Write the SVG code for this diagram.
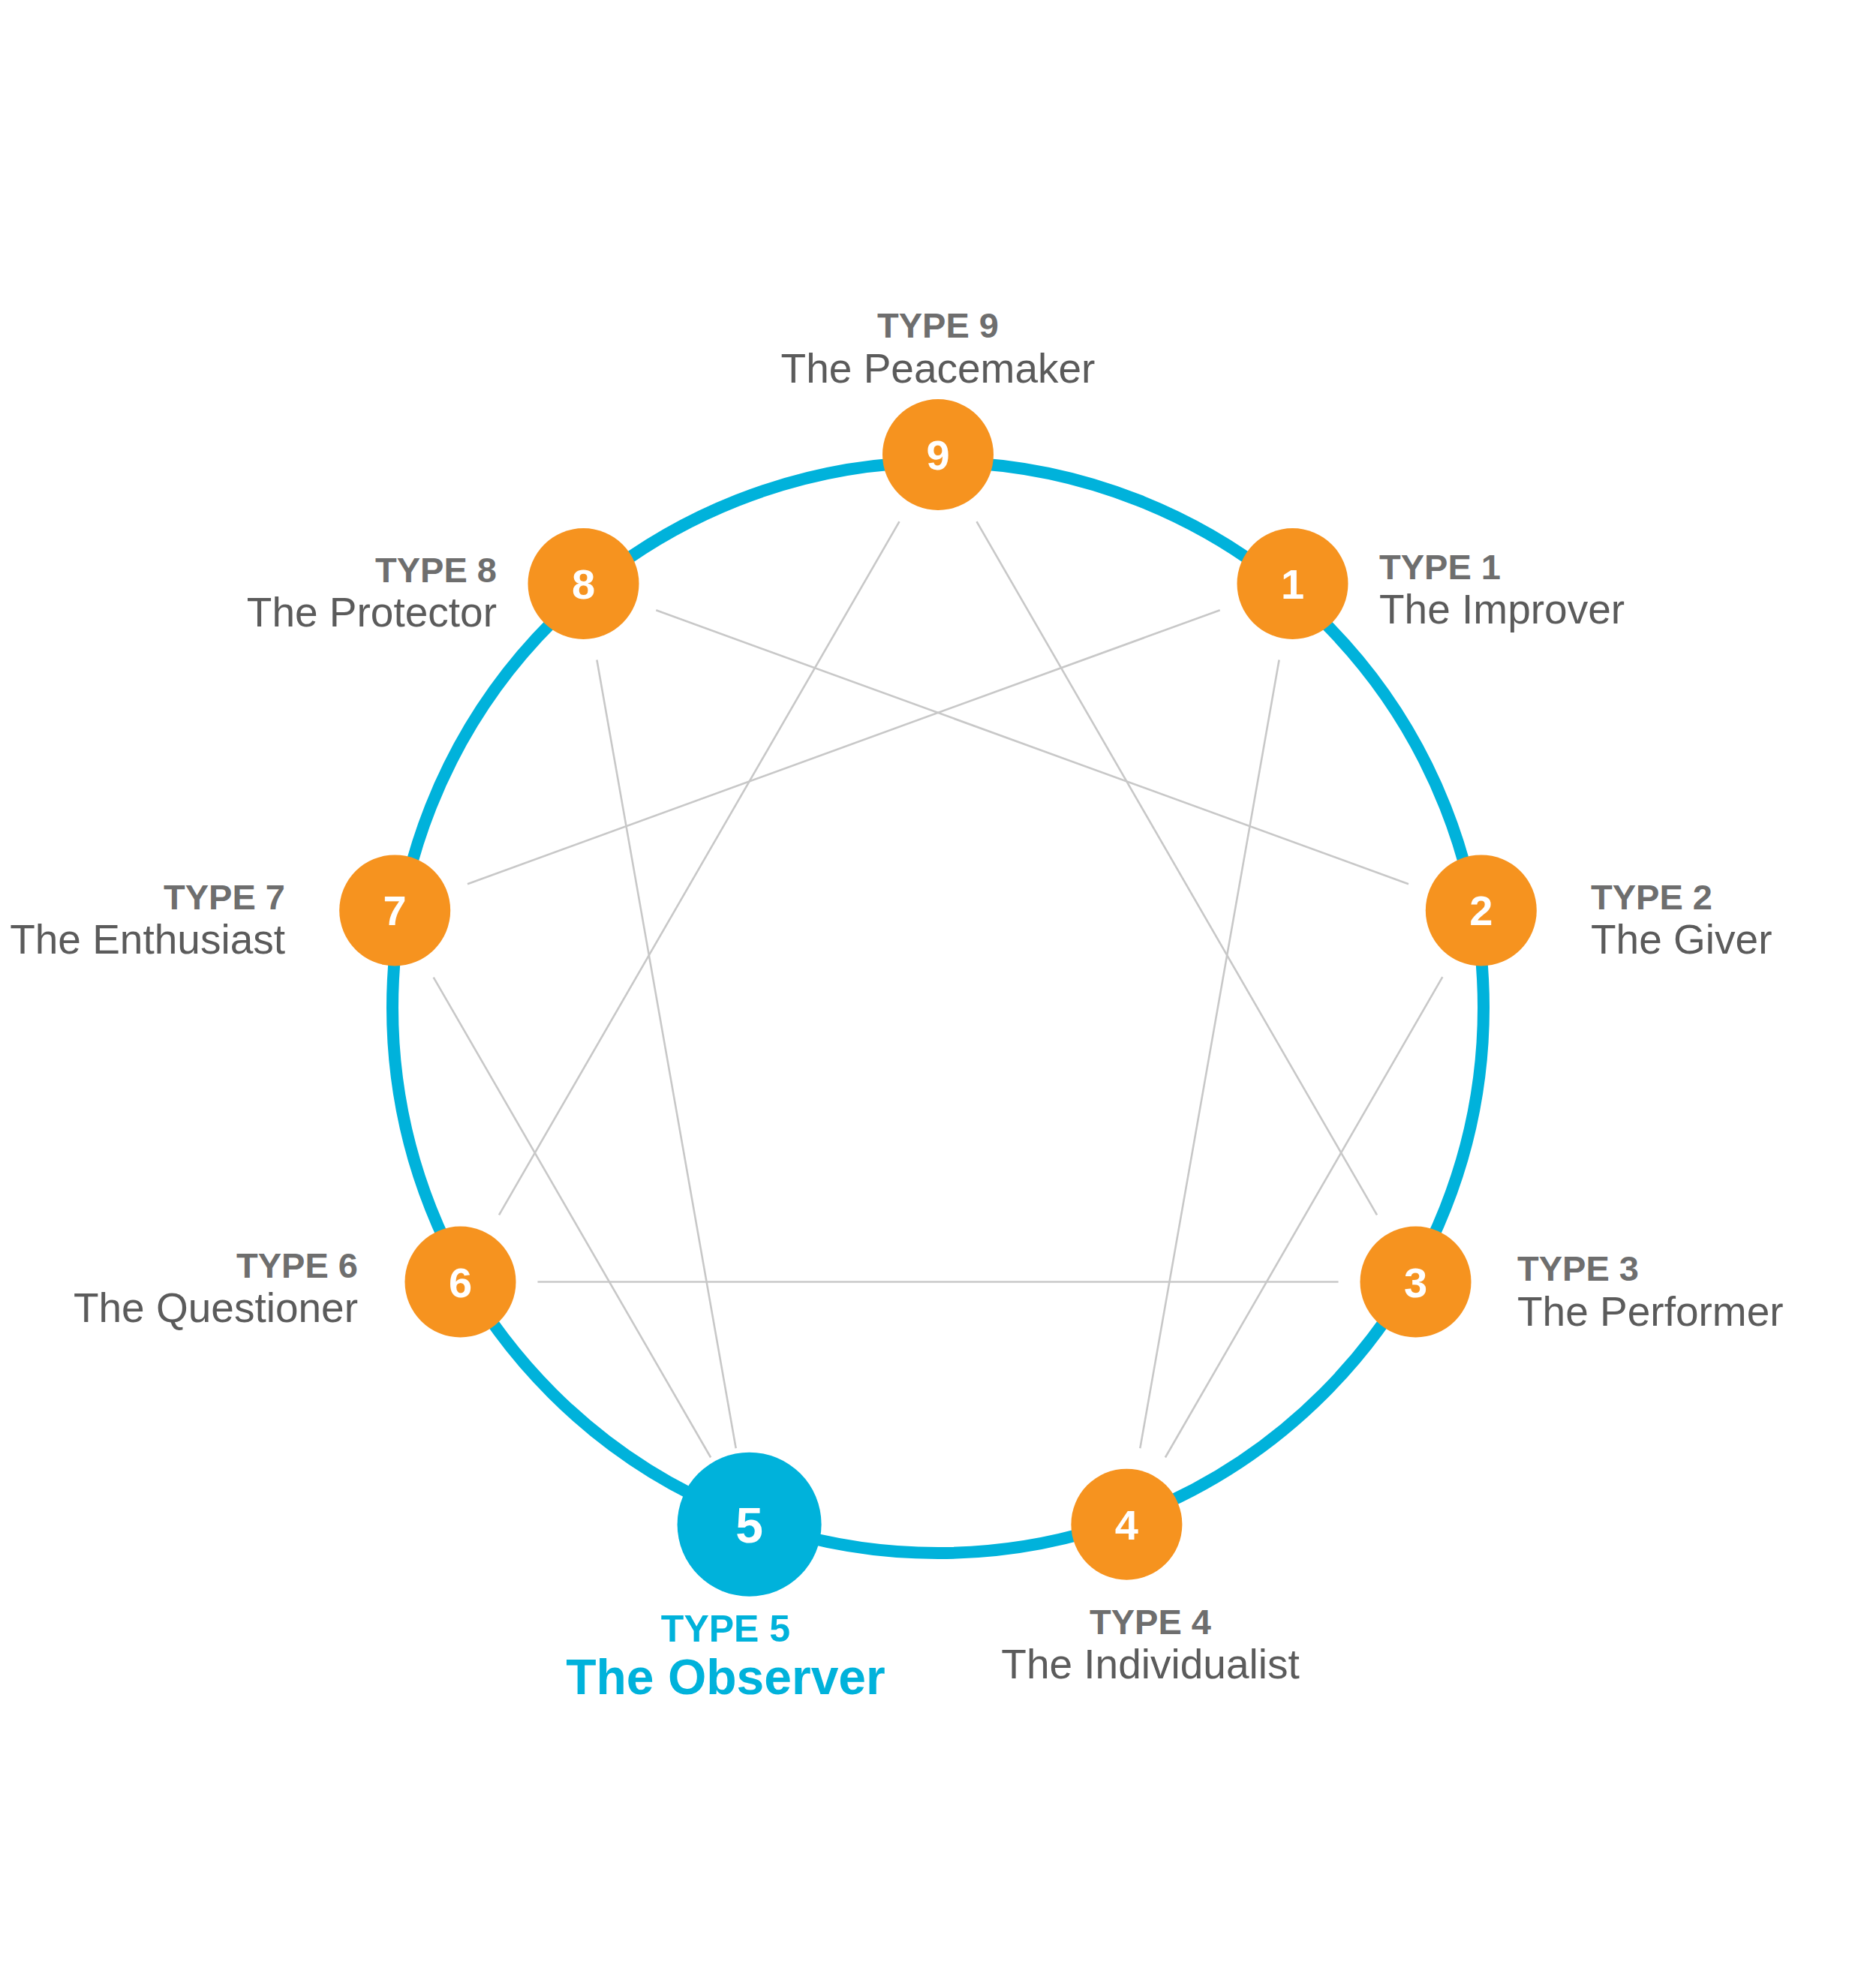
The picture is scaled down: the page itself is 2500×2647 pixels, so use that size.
<svg xmlns="http://www.w3.org/2000/svg" width="2500" height="2647" viewBox="0 0 2500 2647">
<style>
.ring{fill:none;stroke:#00B2DB;stroke-width:16}
.ln{stroke:#C8C8C8;stroke-width:2.6;fill:none}
.dot{fill:#F6931F}
.num{font-family:"Liberation Sans",Arial,sans-serif;font-weight:bold;font-size:56px;fill:#FFFFFF;text-anchor:middle}
.t{font-family:"Liberation Sans",Arial,sans-serif;font-weight:bold;font-size:47px;fill:#6E6E6E}
.n{font-family:"Liberation Sans",Arial,sans-serif;font-size:55px;fill:#5B5B5B}
</style>
<rect width="2500" height="2647" fill="#FFFFFF"/>
<circle class="ring" cx="1250" cy="1343" r="727"/>
<g id="connectors">
<line class="ln" x1="1301.5" y1="695.2" x2="1835" y2="1619.3"/>
<line class="ln" x1="1198.5" y1="695.2" x2="665" y2="1619.3"/>
<line class="ln" x1="1783.5" y1="1708.5" x2="716.5" y2="1708.5"/>
<line class="ln" x1="1704.6" y1="879.4" x2="1519.3" y2="1930.3"/>
<line class="ln" x1="1552.9" y1="1942.5" x2="1922.3" y2="1302.2"/>
<line class="ln" x1="1877" y1="1178.2" x2="874.3" y2="813.2"/>
<line class="ln" x1="795.4" y1="879.4" x2="980.7" y2="1930.3"/>
<line class="ln" x1="947.1" y1="1942.5" x2="577.7" y2="1302.6"/>
<line class="ln" x1="623" y1="1178.2" x2="1625.7" y2="813.2"/>
</g>
<g id="node9">
<circle class="dot" cx="1250" cy="606" r="74"/>
<text class="num" x="1250" y="626">9</text>
<text class="t" x="1250" y="450" text-anchor="middle">TYPE 9</text>
<text class="n" x="1250" y="510" text-anchor="middle">The Peacemaker</text>
</g>
<g id="node1">
<circle class="dot" cx="1722.5" cy="778" r="74"/>
<text class="num" x="1722.5" y="798">1</text>
<text class="t" x="1838" y="772">TYPE 1</text>
<text class="n" x="1838" y="831">The Improver</text>
</g>
<g id="node2">
<circle class="dot" cx="1973.8" cy="1213.4" r="74"/>
<text class="num" x="1973.8" y="1233.4">2</text>
<text class="t" x="2120" y="1212">TYPE 2</text>
<text class="n" x="2120" y="1271">The Giver</text>
</g>
<g id="node3">
<circle class="dot" cx="1886.5" cy="1708.5" r="74"/>
<text class="num" x="1886.5" y="1728.5">3</text>
<text class="t" x="2022" y="1707">TYPE 3</text>
<text class="n" x="2022" y="1767">The Performer</text>
</g>
<g id="node4">
<circle class="dot" cx="1501.4" cy="2031.7" r="74"/>
<text class="num" x="1501.4" y="2051.7">4</text>
<text class="t" x="1533" y="2178" text-anchor="middle">TYPE 4</text>
<text class="n" x="1533" y="2237" text-anchor="middle">The Individualist</text>
</g>
<g id="node5">
<circle cx="998.6" cy="2031.7" r="96" fill="#00B2DB"/>
<text class="num" x="998.6" y="2055.7" style="font-size:66px">5</text>
<text class="t" x="967" y="2188" text-anchor="middle" style="font-size:50px;fill:#00B2DB">TYPE 5</text>
<text class="t" x="967" y="2258" text-anchor="middle" style="font-size:66px;fill:#00B2DB">The Observer</text>
</g>
<g id="node6">
<circle class="dot" cx="613.5" cy="1708.5" r="74"/>
<text class="num" x="613.5" y="1728.5">6</text>
<text class="t" x="477" y="1703" text-anchor="end">TYPE 6</text>
<text class="n" x="477" y="1762" text-anchor="end">The Questioner</text>
</g>
<g id="node7">
<circle class="dot" cx="526.2" cy="1213.4" r="74"/>
<text class="num" x="526.2" y="1233.4">7</text>
<text class="t" x="380" y="1212" text-anchor="end">TYPE 7</text>
<text class="n" x="380" y="1271" text-anchor="end">The Enthusiast</text>
</g>
<g id="node8">
<circle class="dot" cx="777.5" cy="778" r="74"/>
<text class="num" x="777.5" y="798">8</text>
<text class="t" x="662" y="776" text-anchor="end">TYPE 8</text>
<text class="n" x="662" y="835" text-anchor="end">The Protector</text>
</g>
</svg>
